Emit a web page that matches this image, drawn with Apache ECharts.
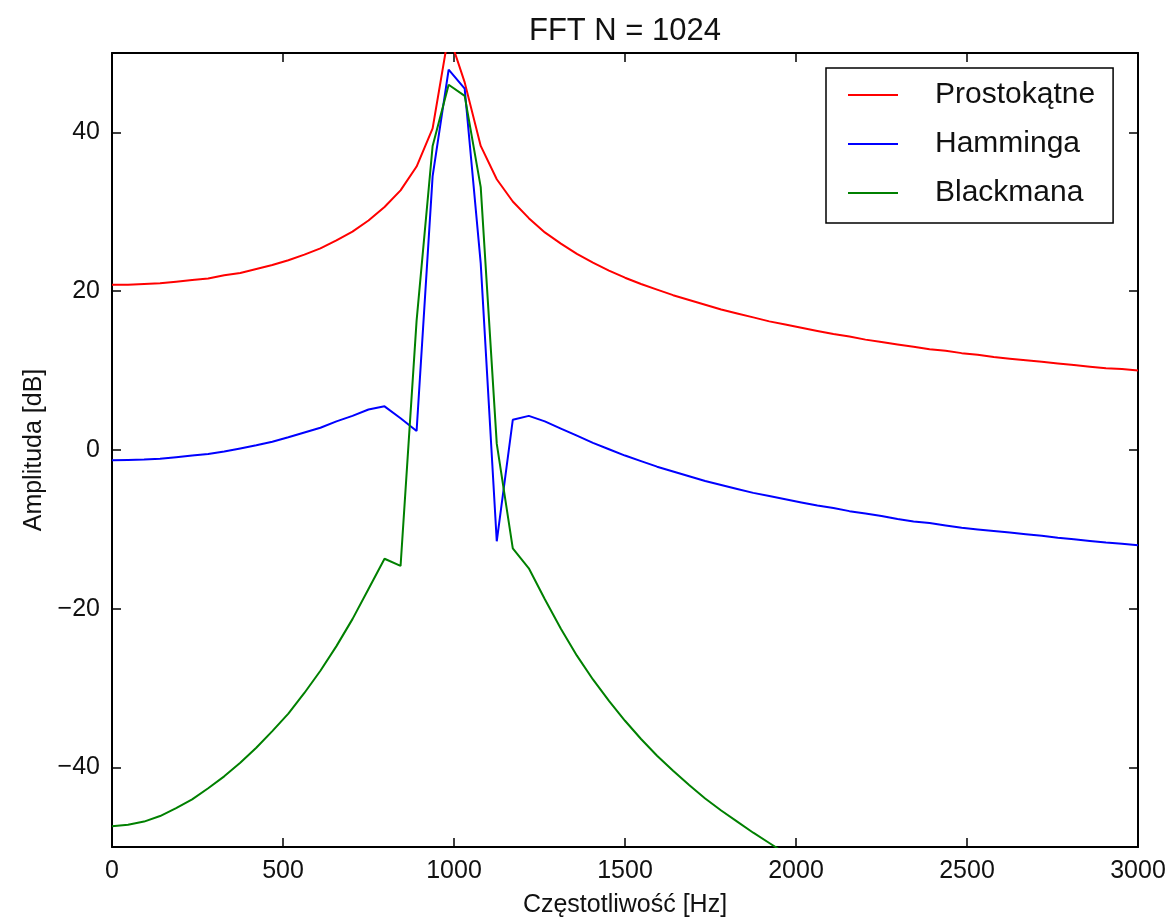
<!DOCTYPE html>
<html>
<head>
<meta charset="utf-8">
<script src="https://cdn.jsdelivr.net/npm/echarts@6/dist/echarts.min.js"></script>
<style>
  html, body { margin: 0; padding: 0; background: #fff; }
  #chart { width: 1171px; height: 919px; }
</style>
</head>
<body>
<div id="chart"></div>
<script>
// FFT bin frequencies (Hz)
const freqHz = [0, 46.875, 93.75, 140.625, 187.5, 234.375, 281.25, 328.125, 375, 421.875,
  468.75, 515.625, 562.5, 609.375, 656.25, 703.125, 750, 796.875, 843.75, 890.625,
  937.5, 984.375, 1031.25, 1078.125, 1125, 1171.875, 1218.75, 1265.625, 1312.5, 1359.375,
  1406.25, 1453.125, 1500, 1546.875, 1593.75, 1640.625, 1687.5, 1734.375, 1781.25, 1828.125,
  1875, 1921.875, 1968.75, 2015.625, 2062.5, 2109.375, 2156.25, 2203.125, 2250, 2296.875,
  2343.75, 2390.625, 2437.5, 2484.375, 2531.25, 2578.125, 2625, 2671.875, 2718.75, 2765.625,
  2812.5, 2859.375, 2906.25, 2953.125, 3000];

// Prostokątne (rectangular window), dB
const rectDb = [20.8, 20.8, 20.9, 21.0, 21.2, 21.4, 21.6, 22.0, 22.3, 22.8,
  23.3, 23.9, 24.6, 25.4, 26.4, 27.5, 28.9, 30.6, 32.7, 35.7,
  40.5, 52.4, 46.3, 38.3, 34.1, 31.3, 29.2, 27.4, 26.0, 24.7,
  23.6, 22.6, 21.7, 20.9, 20.2, 19.5, 18.9, 18.3, 17.7, 17.2,
  16.7, 16.2, 15.8, 15.4, 15.0, 14.6, 14.3, 13.9, 13.6, 13.3,
  13.0, 12.7, 12.5, 12.2, 12.0, 11.7, 11.5, 11.3, 11.1, 10.9,
  10.7, 10.5, 10.3, 10.2, 10.0];

// Hamminga window, dB
const hammingDb = [-1.3, -1.25, -1.2, -1.1, -0.9, -0.7, -0.5, -0.2, 0.2, 0.6,
  1.05, 1.6, 2.2, 2.8, 3.6, 4.3, 5.1, 5.5, 4.0, 2.4,
  34.5, 47.9, 45.5, 23.5, -11.5, 3.8, 4.3, 3.6, 2.7, 1.8,
  0.9, 0.1, -0.7, -1.4, -2.1, -2.7, -3.3, -3.9, -4.4, -4.9,
  -5.4, -5.8, -6.2, -6.6, -7.0, -7.3, -7.7, -8.0, -8.3, -8.7,
  -9.0, -9.2, -9.5, -9.8, -10.0, -10.2, -10.4, -10.6, -10.8, -11.05,
  -11.25, -11.45, -11.65, -11.8, -12.0];

// Blackmana window, dB (leaves the plot below -50 after ~1940 Hz)
const blackmanDb = [-47.4, -47.2, -46.8, -46.1, -45.1, -44.0, -42.6, -41.1, -39.4, -37.5,
  -35.4, -33.2, -30.6, -27.8, -24.7, -21.3, -17.5, -13.7, -14.6, 16.3,
  38.3, 46.0, 44.6, 33.1, 0.8, -12.4, -14.9, -18.8, -22.5, -25.9,
  -28.9, -31.6, -34.1, -36.4, -38.5, -40.4, -42.2, -43.9, -45.4, -46.8,
  -48.2, -49.5, -50.8];

const seriesNames = ['Prostokątne', 'Hamminga', 'Blackmana'];
const seriesColors = ['#ff0000', '#0000ff', '#008000'];
const xTicks = [0, 500, 1000, 1500, 2000, 2500, 3000];
const yTicks = [-40, -20, 0, 20, 40];

const FONT = 'Liberation Sans, Arial, Helvetica, sans-serif';
const toPairs = arr => arr.map((v, i) => [freqHz[i], v]);

const frameLine = { show: true, onZero: false, lineStyle: { color: '#000', width: 2 } };
const tickStyle = { show: true, inside: true, length: 9, lineStyle: { color: '#000', width: 1.5 } };

const chart = echarts.init(document.getElementById('chart'), null, { renderer: 'canvas' });
chart.setOption({
  animation: false,
  backgroundColor: '#fff',
  title: {
    text: 'FFT N = 1024',
    left: 625,
    top: 16,
    textAlign: 'center',
    padding: 0,
    textStyle: { fontFamily: FONT, fontSize: 31, fontWeight: 'normal', color: '#111' }
  },
  grid: { left: 112, right: 33, top: 53, bottom: 72, containLabel: false, outerBoundsMode: 'none' },
  legend: {
    orient: 'vertical',
    left: 826,
    top: 68,
    padding: [12, 18, 15, 22],
    icon: 'rect',
    itemWidth: 50,
    itemHeight: 2,
    itemGap: 19,
    borderColor: '#000',
    borderWidth: 1.5,
    borderRadius: 0,
    backgroundColor: '#fff',
    textStyle: { fontFamily: FONT, fontSize: 30, color: '#111', padding: [0, 0, 0, 32], lineHeight: 30 },
    data: seriesNames
  },
  xAxis: [
    {
      type: 'value', min: xTicks[0], max: xTicks[xTicks.length - 1], interval: 500,
      position: 'bottom',
      axisLine: frameLine, axisTick: tickStyle,
      axisLabel: { color: '#111', fontFamily: FONT, fontSize: 25, margin: 12, formatter: v => String(v) },
      splitLine: { show: false },
      name: 'Częstotliwość [Hz]', nameLocation: 'middle', nameGap: 46,
      nameTextStyle: { fontFamily: FONT, fontSize: 25, color: '#111' }
    },
    {
      type: 'value', min: xTicks[0], max: xTicks[xTicks.length - 1], interval: 500,
      position: 'top',
      axisLine: frameLine, axisTick: tickStyle,
      axisLabel: { show: false }, splitLine: { show: false }
    }
  ],
  yAxis: [
    {
      type: 'value', min: -50, max: 50,
      position: 'left',
      axisLine: frameLine,
      axisTick: Object.assign({}, tickStyle, { customValues: yTicks }),
      axisLabel: { color: '#111', fontFamily: FONT, fontSize: 25, margin: 12, customValues: yTicks,
        formatter: v => (v < 0 ? '\u2212' + Math.abs(v) : String(v)) },
      splitLine: { show: false },
      name: 'Amplituda [dB]', nameLocation: 'middle', nameGap: 56, nameRotate: 90,
      nameTextStyle: { fontFamily: FONT, fontSize: 25, color: '#111' }
    },
    {
      type: 'value', min: -50, max: 50,
      position: 'right',
      axisLine: frameLine,
      axisTick: Object.assign({}, tickStyle, { customValues: yTicks }),
      axisLabel: { show: false }, splitLine: { show: false }
    }
  ],
  series: [rectDb, hammingDb, blackmanDb].map((arr, i) => ({
    name: seriesNames[i],
    type: 'line',
    xAxisIndex: 0,
    yAxisIndex: 0,
    data: toPairs(arr),
    symbol: 'none',
    clip: true,
    smooth: false,
    lineStyle: { color: seriesColors[i], width: 2 },
    itemStyle: { color: seriesColors[i] },
    z: 2 + i
  }))
});
</script>
</body>
</html>
